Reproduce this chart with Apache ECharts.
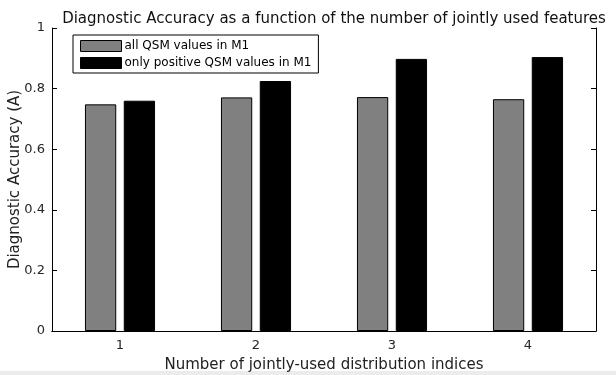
<!DOCTYPE html>
<html>
<head>
<meta charset="utf-8">
<script src="https://cdn.jsdelivr.net/npm/echarts@6/dist/echarts.min.js"></script>
<style>
  html, body { margin: 0; padding: 0; background: #fff; }
  #chart { width: 616px; height: 375px; }
</style>
</head>
<body>
<div id="chart"></div>
<script>
// data
var categories = ['1', '2', '3', '4'];
var allValues = [0.748, 0.771, 0.772, 0.765];
var positiveValues = [0.760, 0.825, 0.898, 0.904];
var seriesNames = ['all QSM values in M1', 'only positive QSM values in M1'];

var chart = echarts.init(document.getElementById('chart'));
var font = 'DejaVu Sans';

var option = {
    backgroundColor: '#fff',
    animation: false,
    textStyle: { fontFamily: font },
    title: {
        text: 'Diagnostic Accuracy as a function of the number of jointly used features',
        left: 329,
        top: 7,
        textAlign: 'center',
        textStyle: { fontFamily: font, fontSize: 15, fontWeight: 'normal', color: '#111' }
    },
    legend: {
        orient: 'vertical',
        left: 73,
        top: 35,
        padding: [5, 7, 4, 7],
        itemGap: 5,
        itemWidth: 41,
        itemHeight: 11,
        borderColor: '#000',
        borderWidth: 1,
        backgroundColor: '#fff',
        icon: 'rect',
        textStyle: { fontFamily: font, fontSize: 12, color: '#000', padding: [0, 0, 0, -2] },
        data: [
            { name: seriesNames[0], itemStyle: { color: '#808080', borderColor: '#000', borderWidth: 1 } },
            { name: seriesNames[1], itemStyle: { color: '#000', borderColor: '#000', borderWidth: 1 } }
        ]
    },
    grid: { left: 52, right: 20, top: 28, bottom: 44, outerBoundsMode: 'none' },
    xAxis: [{
        type: 'category',
        data: categories,
        name: 'Number of jointly-used distribution indices',
        nameLocation: 'middle',
        nameGap: 27,
        nameMoveOverlap: false,
        nameTextStyle: { fontFamily: font, fontSize: 15, color: '#222' },
        axisLine: { lineStyle: { color: '#000', width: 1 } },
        axisTick: { alignWithLabel: true, inside: true, length: 5, lineStyle: { color: '#000' } },
        axisLabel: { fontFamily: font, fontSize: 13, color: '#262626', margin: 8 },
        splitLine: { show: false }
    }, {
        type: 'category',
        data: categories,
        position: 'top',
        axisLine: { lineStyle: { color: '#000', width: 1 } },
        axisTick: { alignWithLabel: true, inside: true, length: 5, lineStyle: { color: '#000' } },
        axisLabel: { show: false },
        splitLine: { show: false }
    }],
    yAxis: [{
        type: 'value',
        min: 0,
        max: 1,
        interval: 0.2,
        name: 'Diagnostic Accuracy (A)',
        nameLocation: 'middle',
        nameGap: 29,
        nameMoveOverlap: false,
        nameTextStyle: { fontFamily: font, fontSize: 15, color: '#222' },
        axisLine: { show: true, lineStyle: { color: '#000', width: 1 } },
        axisTick: { show: true, inside: true, length: 5, lineStyle: { color: '#000' } },
        axisLabel: { fontFamily: font, fontSize: 13, color: '#262626', margin: 7 },
        splitLine: { show: false }
    }, {
        type: 'value',
        min: 0,
        max: 1,
        interval: 0.2,
        position: 'right',
        axisLine: { show: true, lineStyle: { color: '#000', width: 1 } },
        axisTick: { show: true, inside: true, length: 5, lineStyle: { color: '#000' } },
        axisLabel: { show: false },
        splitLine: { show: false }
    }],
    graphic: [{
        type: 'rect',
        left: 0,
        top: 371,
        shape: { width: 616, height: 4 },
        style: { fill: '#ececec' },
        silent: true
    }],
    series: [{
        name: seriesNames[0],
        type: 'bar',
        data: allValues,
        barWidth: '23%',
        barGap: '24%',
        itemStyle: { color: '#808080', borderColor: '#000', borderWidth: 1 }
    }, {
        name: seriesNames[1],
        type: 'bar',
        data: positiveValues,
        barWidth: '23%',
        barGap: '24%',
        itemStyle: { color: '#000', borderColor: '#000', borderWidth: 1 }
    }]
};

chart.setOption(option);
window.addEventListener('resize', function () {
    chart.resize();
});
</script>
</body>
</html>
